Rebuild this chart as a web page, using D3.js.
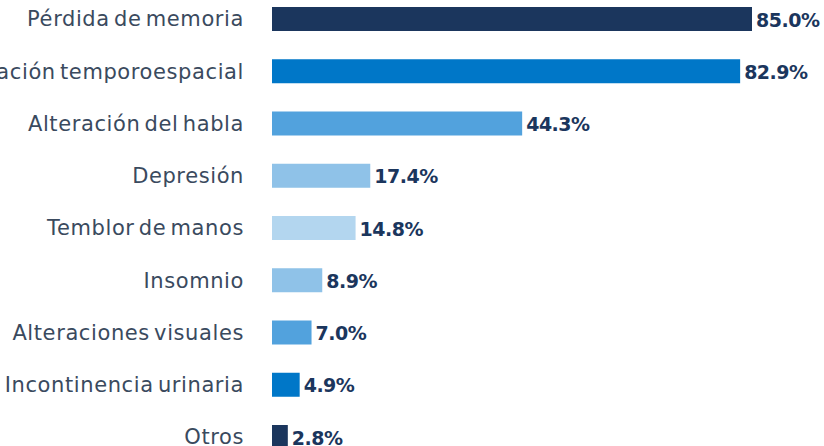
<!DOCTYPE html>
<html>
<head>
<meta charset="utf-8">
<script src="https://cdn.jsdelivr.net/npm/d3@7"></script>
<style>
  body { margin: 0; background: #fff; }
  svg { display: block; }
</style>
</head>
<body>
<script>
var categories = ["Pérdida de memoria", "Desorientación temporoespacial", "Alteración del habla",
    "Depresión", "Temblor de manos", "Insomnio", "Alteraciones visuales",
    "Incontinencia urinaria", "Otros"];
var values = [85.0, 82.9, 44.3, 17.4, 14.8, 8.9, 7.0, 4.9, 2.8];
var colors = ["#1b365d", "#0077c8", "#52a2dd", "#8fc2e8", "#b3d6ef",
    "#8fc2e8", "#52a2dd", "#0077c8", "#1b365d"];

var width = 824, height = 446;

var svg = d3.select("body").append("svg")
    .attr("width", width)
    .attr("height", height);

var x = d3.scaleLinear().domain([0, 85]).range([272, 752]);
var y = d3.scalePoint().domain(categories).range([19, 437]);
var barH = 24;

svg.selectAll(".bar")
    .data(categories)
    .enter().append("rect")
    .attr("class", "bar")
    .attr("x", x(0))
    .attr("y", function(d) { return y(d) - barH / 2; })
    .attr("width", function(d, i) { return x(values[i]) - x(0); })
    .attr("height", barH)
    .style("fill", function(d, i) { return colors[i]; });

svg.selectAll(".cat")
    .data(categories)
    .enter().append("text")
    .attr("class", "cat")
    .attr("x", 244)
    .attr("y", function(d) { return y(d); })
    .attr("dy", "0.35em")
    .attr("text-anchor", "end")
    .style("font-family", "'DejaVu Sans', sans-serif")
    .style("font-size", "21px")
    .style("letter-spacing", "0.6px")
    .style("word-spacing", "-3px")
    .style("fill", "#3a4a5e")
    .text(function(d) { return d; });

svg.selectAll(".val")
    .data(categories)
    .enter().append("text")
    .attr("class", "val")
    .attr("x", function(d, i) { return x(values[i]) + 4; })
    .attr("y", function(d) { return y(d) + 1; })
    .attr("dy", "0.35em")
    .style("font-family", "'DejaVu Sans', sans-serif")
    .style("font-weight", "bold")
    .style("font-size", "19px")
    .style("letter-spacing", "-0.5px")
    .style("fill", "#1b365d")
    .text(function(d, i) { return values[i].toFixed(1) + "%"; });
</script>
</body>
</html>
